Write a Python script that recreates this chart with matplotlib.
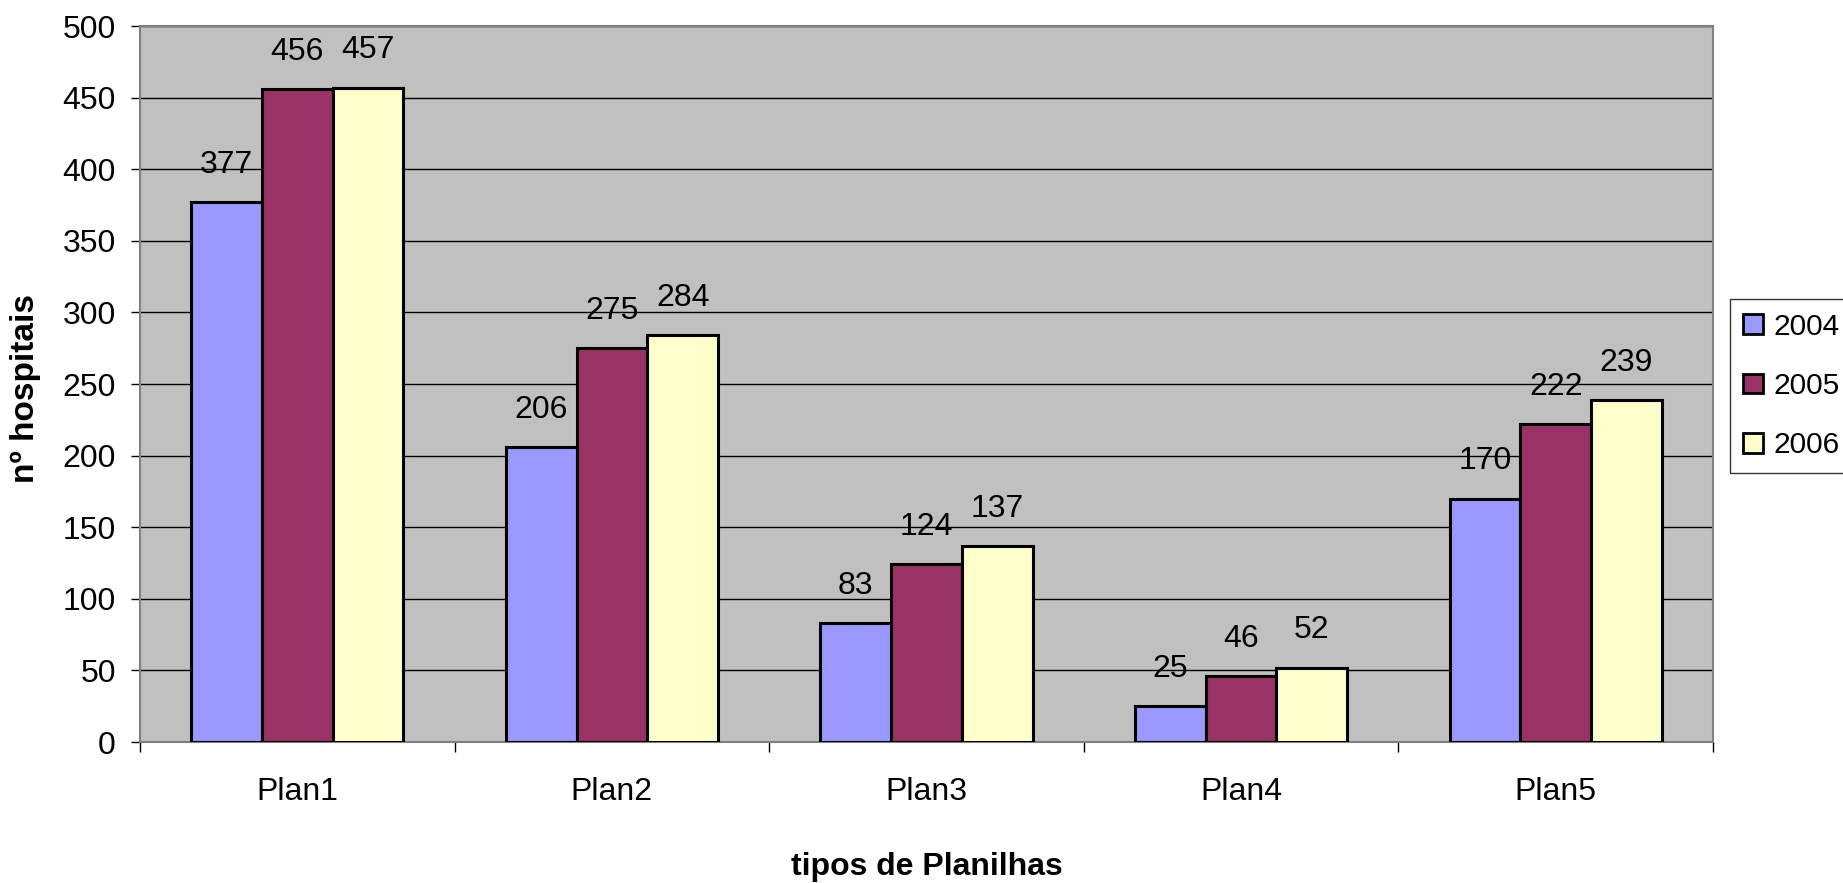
import matplotlib
matplotlib.use("Agg")
import matplotlib.pyplot as plt
import numpy as np
from matplotlib.ticker import FixedLocator, MultipleLocator

categories = ["Plan1", "Plan2", "Plan3", "Plan4", "Plan5"]
series_names = ["2004", "2005", "2006"]
v2004 = [377, 206, 83, 25, 170]
v2005 = [456, 275, 124, 46, 222]
v2006 = [457, 284, 137, 52, 239]
series_values = [v2004, v2005, v2006]
colors = ["#9999FF", "#993366", "#FFFFCC"]

plt.rcParams['font.family'] = ['Liberation Sans', 'DejaVu Sans']

W, H = 1843, 883
fig = plt.figure(figsize=(W / 100, H / 100), dpi=100)
ax = fig.add_axes([140 / W, 1 - 742 / H, (1713 - 140) / W, (742 - 26) / H])
ax.set_facecolor("#C0C0C0")

x = np.arange(len(categories))
bw = 0.225
fs = 23
for i, (name, vals, c) in enumerate(zip(series_names, series_values, colors)):
    pos = x + (i - 1) * bw
    ax.bar(pos, vals, width=bw, color=c, edgecolor="black", linewidth=2.2,
           label=name, zorder=3)
    for p, v in zip(pos, vals):
        ax.annotate(str(v), (p, v), xytext=(0, 21), textcoords="offset points",
                    ha="center", va="baseline", fontsize=fs, zorder=4)

ax.set_xlim(-0.5, len(categories) - 0.5)
ax.set_ylim(0, 500)
ax.yaxis.set_major_locator(MultipleLocator(50))
ax.grid(axis="y", color="black", linewidth=1.0, zorder=1)
ax.set_axisbelow(True)

ax.set_xticks(x)
ax.set_xticklabels(categories)
ax.xaxis.set_minor_locator(FixedLocator(np.arange(-0.5, len(categories), 1.0)))
ax.tick_params(axis="x", which="major", length=0, pad=25, labelsize=fs)
ax.tick_params(axis="x", which="minor", length=7.2, width=1, color="black", direction="out")
ax.tick_params(axis="y", which="major", length=6.5, width=1, color="black",
               direction="out", pad=10.8, labelsize=fs)

for s in ax.spines.values():
    s.set_color("#808080")
    s.set_linewidth(1.5)

ax.set_xlabel("tipos de Planilhas", fontsize=23, fontweight="bold")
ax.xaxis.set_label_coords(0.5, -0.153)
fig.text(26 / W, 1 - 388 / H, "nº hospitais", rotation=90, ha="center", va="center",
         fontsize=24, fontweight="bold")

leg = fig.legend(loc="center left", bbox_to_anchor=(1730 / W, 1 - 386 / H),
                 fontsize=21.5, frameon=True, fancybox=False, edgecolor="black",
                 handlelength=0.64, handleheight=0.64, handletextpad=0.37,
                 labelspacing=1.05, borderpad=0.45, borderaxespad=0)
leg.get_frame().set_linewidth(1.0)
for h in leg.legend_handles:
    h.set_linewidth(2.0)

fig.savefig("out.png", dpi=100)
